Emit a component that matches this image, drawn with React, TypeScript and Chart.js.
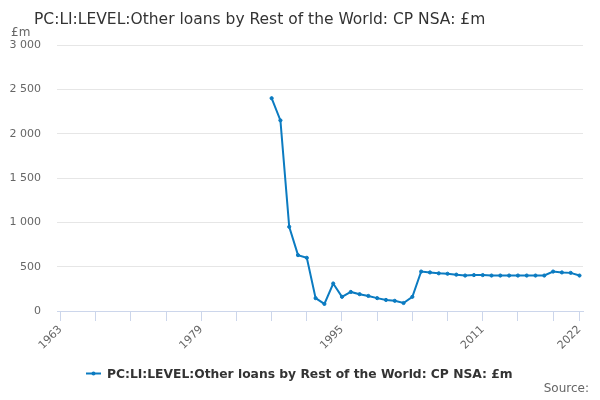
import { useEffect, useRef } from "react"
import { Chart, registerables } from "chart.js"

Chart.register(...registerables)

const title = "PC:LI:LEVEL:Other loans by Rest of the World: CP NSA: £m"
const seriesName = "PC:LI:LEVEL:Other loans by Rest of the World: CP NSA: £m"
const unitLabel = "£m"
const sourceLabel = "Source:"

const years = [
  1987, 1988, 1989, 1990, 1991, 1992, 1993, 1994, 1995, 1996, 1997, 1998,
  1999, 2000, 2001, 2002, 2003, 2004, 2005, 2006, 2007, 2008, 2009, 2010,
  2011, 2012, 2013, 2014, 2015, 2016, 2017, 2018, 2019, 2020, 2021, 2022,
]
const values = [
  2400, 2150, 950, 630, 600, 145, 80, 310, 160, 215, 190, 170,
  145, 125, 115, 90, 160, 445, 435, 425, 420, 410, 400, 405,
  405, 400, 400, 400, 400, 400, 400, 400, 445, 435, 430, 400,
]
const tickYears = [1963, 1967, 1971, 1975, 1979, 1983, 1987, 1991, 1995, 1999, 2003, 2007, 2011, 2015, 2019, 2022]
const labelYears = [1963, 1979, 1995, 2011, 2022]

const lineColor = "#0b7bc1"
const font = "DejaVu Sans"

const fmt = (v: number) => String(v).replace(/\B(?=(\d{3})+(?!\d))/g, " ")

const extras = {
  id: "extras",
  afterDraw(chart: Chart) {
    const ctx = chart.ctx
    ctx.save()
    ctx.textBaseline = "alphabetic"
    // title
    ctx.fillStyle = "#333"
    ctx.font = `15.5px '${font}'`
    ctx.textAlign = "left"
    ctx.fillText(title, 34, 24)
    // unit
    ctx.fillStyle = "#666"
    ctx.font = `12px '${font}'`
    ctx.fillText(unitLabel, 11, 36)
    // legend
    ctx.strokeStyle = lineColor
    ctx.lineWidth = 2
    ctx.beginPath()
    ctx.moveTo(86, 373.5)
    ctx.lineTo(101, 373.5)
    ctx.stroke()
    ctx.fillStyle = lineColor
    ctx.beginPath()
    ctx.arc(93.5, 373.5, 2, 0, Math.PI * 2)
    ctx.fill()
    ctx.fillStyle = "#333"
    ctx.font = `bold 12.3px '${font}'`
    ctx.fillText(seriesName, 107, 378)
    // source
    ctx.fillStyle = "#666"
    ctx.font = `12px '${font}'`
    ctx.textAlign = "right"
    ctx.fillText(sourceLabel, 589, 392)
    ctx.restore()
  },
}

export default function App() {
  const chartRef = useRef<HTMLCanvasElement>(null)
  const chartInstance = useRef<Chart | null>(null)

  useEffect(() => {
    if (!chartRef.current) return
    if (chartInstance.current) chartInstance.current.destroy()

    Chart.defaults.font.family = font

    chartInstance.current = new Chart(chartRef.current, {
      type: "line",
      data: {
        datasets: [
          {
            label: seriesName,
            data: years.map((y, i) => ({ x: y, y: values[i] })),
            borderColor: lineColor,
            backgroundColor: lineColor,
            borderWidth: 2,
            pointRadius: 1.6,
            pointBorderWidth: 1,
            pointHoverRadius: 3,
            tension: 0,
            fill: false,
          },
        ],
      },
      options: {
        responsive: false,
        animation: false,
        layout: { padding: { top: 45, left: 0, right: 17, bottom: 39 } },
        plugins: {
          legend: { display: false },
          title: { display: false },
          tooltip: { enabled: false },
        },
        scales: {
          x: {
            type: "linear",
            min: 1962.6,
            max: 2022.4,
            afterBuildTicks: (axis: any) => {
              axis.ticks = tickYears.map((v) => ({ value: v }))
            },
            afterFit: (axis: any) => {
              axis.height = 50
            },
            grid: {
              drawOnChartArea: false,
              drawTicks: true,
              tickLength: 10,
              color: "#ccd6eb",
            },
            border: { display: true, color: "#ccd6eb", width: 1 },
            ticks: {
              autoSkip: false,
              minRotation: 45,
              maxRotation: 45,
              padding: 2,
              color: "#666",
              font: { size: 11, family: font },
              callback: (v: any) => (labelYears.includes(Number(v)) ? String(v) : ""),
            },
          },
          y: {
            min: 0,
            max: 3000,
            afterFit: (axis: any) => {
              axis.width = 57
            },
            grid: { color: "#e6e6e6", drawTicks: false },
            border: { display: false },
            ticks: {
              stepSize: 500,
              padding: 16,
              color: "#666",
              font: { size: 11, family: font },
              callback: (v: any) => fmt(Number(v)),
            },
          },
        },
      },
      plugins: [extras],
    })

    return () => {
      if (chartInstance.current) {
        chartInstance.current.destroy()
        chartInstance.current = null
      }
    }
  }, [])

  return (
    <div style={{ position: "absolute", left: 0, top: 0, width: 600, height: 400, background: "#fff" }}>
      <canvas ref={chartRef} width={600} height={400} />
    </div>
  )
}
